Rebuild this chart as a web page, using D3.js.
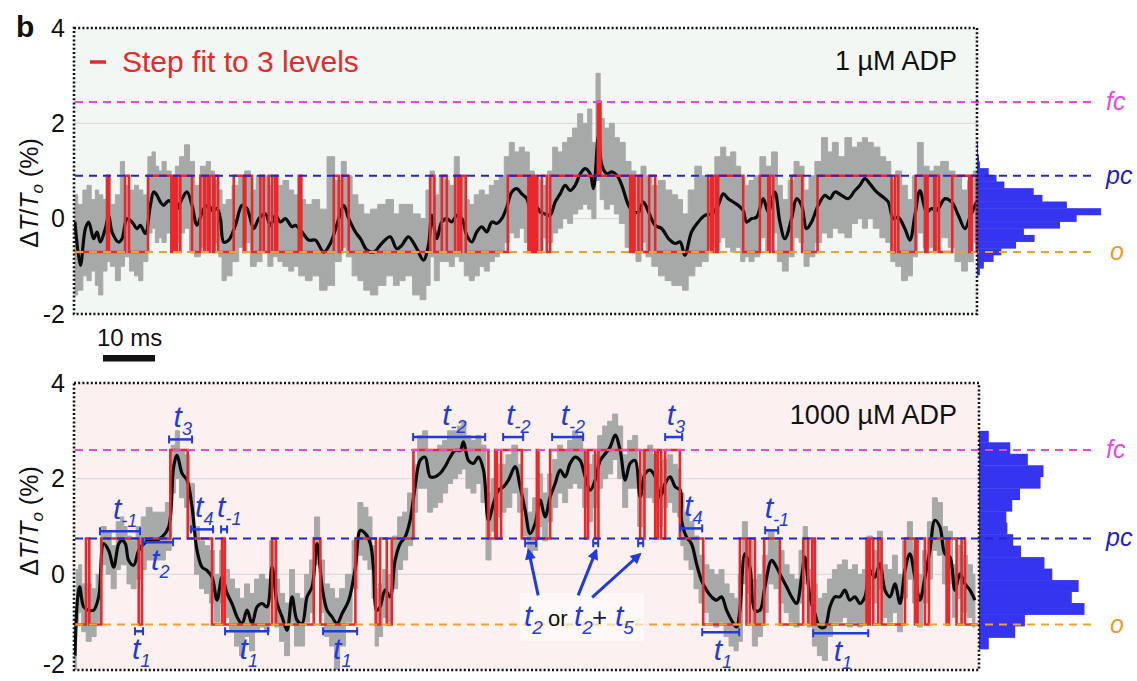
<!DOCTYPE html>
<html><head><meta charset="utf-8">
<script src="https://cdn.jsdelivr.net/npm/d3@7"></script>
<style>
body{margin:0;background:#fff;}
svg{display:block;font-family:"Liberation Sans",Arial,sans-serif;}
</style></head>
<body><svg id="chart" width="1137" height="681"></svg>
<script>
// ---------------- DATA ----------------
const yTicks = [-2, 0, 2, 4];
const levelNames = ["o", "pc", "fc"];
const topLevels = [-0.7, 0.9, 2.45];
const bottomLevels = [-1.05, 0.75, 2.6];
const timeSpan = 173.6; // ms shown
const scaleBarMs = 10;

// step fit: [time ms, level index]
const topStep = [[0,0],[6.15,1],[6.54,0],[9.62,1],[10.38,0],[14.04,1],[18.52,0],[18.79,1],[18.94,0],[19.42,1],[19.62,0],[20.25,1],[22.5,0],[24.1,1],[24.81,0],[25.0,1],[25.58,0],[25.87,1],[26.54,0],[26.83,1],[27.5,0],[30.52,1],[32.44,0],[32.75,1],[34.04,0],[35.63,1],[36.29,0],[37.25,1],[37.88,0],[38.52,1],[38.85,0],[43.02,1],[43.52,0],[49.75,1],[50.71,0],[51.35,1],[52.63,0],[68.27,1],[69.1,0],[70.52,1],[71.48,0],[73.08,1],[73.71,0],[74.23,1],[75.13,0],[83.21,1],[87.17,0],[87.4,1],[87.69,0],[87.98,1],[88.27,0],[88.46,1],[88.85,0],[89.75,1],[90.71,0],[91.35,1],[100.52,2],[101.02,1],[106.73,0],[107.12,1],[107.56,0],[108.33,1],[108.98,0],[110.38,1],[111.54,0],[121.73,1],[122.31,0],[122.69,1],[123.27,0],[123.65,1],[128.46,0],[131.67,1],[133.27,0],[133.6,1],[134.23,0],[137.75,1],[139.81,0],[142.75,1],[156.98,0],[157.63,1],[158.27,0],[161.6,1],[163.4,0],[163.9,1],[165.19,0],[165.44,1],[166.08,0],[168.65,1],[171.92,0],[172.37,1],[173.37,0]];
const bottomStep = [[0,0],[2.12,1],[2.75,0],[5.06,1],[12.25,0],[12.88,1],[18.33,2],[21.67,1],[26.35,0],[28.27,1],[28.79,0],[37.88,1],[38.65,0],[45.9,1],[47.17,0],[53.9,1],[57.83,0],[58.65,1],[59.94,0],[60.9,1],[65.06,2],[79.48,1],[80.77,2],[81.1,1],[81.92,2],[85.9,1],[88.79,2],[89.1,1],[91.35,2],[98.08,1],[98.65,2],[100.0,1],[100.63,2],[108.65,1],[109.48,2],[111.54,1],[112.06,2],[112.69,1],[113.46,2],[116.29,1],[120.77,0],[127.83,1],[129.1,0],[129.75,1],[130.71,0],[132.5,1],[135.52,0],[140.0,1],[140.96,0],[141.73,1],[142.25,0],[152.17,1],[152.5,0],[152.79,1],[153.46,0],[154.42,1],[155.06,0],[159.56,1],[161.48,0],[161.98,1],[163.4,0],[164.17,1],[167.56,0],[168.02,1],[169.48,0],[170.44,1],[171.1,0]];

// traces: [time ms, smoothed value, raw upper, raw lower]  (ΔT/To %)
const topTrace = [[0,-0.07,0.5,-1.6],[1.03,-0.98,0.3,-1.5],[1.99,-0.21,0.6,-1.2],[2.63,-0.07,0.7,-1.3],[3.59,-0.42,0.4,-1.1],[4.23,-0.28,0.6,-1.4],[4.87,-0.49,0.5,-1.6],[5.83,-0.21,0.4,-1.1],[6.47,0.07,0.9,-0.9],[7.12,-0.28,0.3,-1.0],[8.4,-0.49,0.5,-1.3],[9.04,-0.42,1.2,-1.0],[10.0,0,0.7,-0.8],[10.96,-0.07,0.6,-1.1],[11.92,-0.21,0.7,-1.2],[12.56,-0.14,0.6,-1.3],[13.53,-0.31,0.5,-0.9],[14.49,0.28,1.3,-0.3],[15.13,0.56,1.4,-0.2],[15.77,0.49,1.1,-0.5],[16.41,0.35,1.0,-0.4],[17.05,0.28,1.2,-0.5],[18.01,0.38,1.0,-0.3],[18.97,0.28,0.8,-0.6],[19.62,0.21,1.1,-0.5],[20.58,0.42,1.3,-0.3],[21.54,0.56,1.55,-0.2],[22.5,0.28,1.2,-0.7],[23.46,-0.14,0.7,-0.8],[24.74,0.21,1.1,-0.6],[25.71,0.28,1.2,-0.4],[26.35,0.17,1.0,-0.7],[27.31,0.21,0.8,-0.5],[27.95,0,0.6,-0.8],[28.59,-0.49,0.3,-1.3],[29.55,-0.45,0.4,-1.2],[30.83,-0.14,0.7,-0.9],[32.12,0.28,0.9,-0.6],[33.08,0.21,1.0,-0.5],[34.36,-0.21,0.6,-1.0],[35.32,0,0.9,-0.9],[36.6,0.1,0.9,-0.7],[37.56,-0.14,0.7,-1.0],[38.53,0.07,0.9,-0.8],[39.49,-0.07,0.7,-0.9],[40.45,0,0.8,-1.0],[41.73,-0.17,0.6,-1.1],[42.37,-0.14,0.5,-1.0],[43.65,-0.28,0.4,-1.2],[44.94,-0.45,0.3,-1.3],[46.22,-0.45,0.4,-1.2],[47.82,-0.7,0.2,-1.5],[49.1,-0.52,1.3,-1.4],[50.71,0,0.8,-0.9],[51.67,0.28,1.2,-0.6],[52.63,0,0.9,-0.8],[53.91,-0.28,0.5,-1.2],[54.87,-0.42,0.3,-1.3],[56.15,-0.66,0.1,-1.5],[57.44,-0.7,0.2,-1.6],[58.97,-0.52,0.3,-1.4],[60.58,-0.38,0.4,-1.2],[61.86,-0.63,0.1,-1.4],[62.82,-0.56,0.3,-1.3],[64.1,-0.38,0.3,-1.2],[65.71,-0.63,0.1,-1.6],[66.99,-0.87,0.0,-1.7],[67.95,-0.56,0.6,-1.4],[68.59,0.07,1.0,-0.8],[69.55,-0.42,0.5,-1.3],[70.51,-0.07,0.9,-0.9],[71.47,0,0.8,-0.9],[72.44,-0.07,0.7,-1.0],[73.4,0.07,1.3,-0.8],[74.36,0,0.9,-0.9],[75.32,-0.35,0.4,-1.2],[76.28,-0.49,0.3,-1.3],[77.24,-0.28,0.5,-1.2],[78.2,-0.17,0.6,-1.0],[79.17,-0.28,0.5,-1.1],[80.13,-0.07,0.7,-0.9],[81.09,-0.1,0.8,-0.8],[82.05,0,0.9,-0.7],[83.01,0.24,1.3,-0.5],[83.97,0.56,1.6,-0.3],[84.94,0.63,1.4,-0.4],[85.9,0.52,1.5,-0.2],[86.86,0.42,1.4,-0.5],[87.82,0.07,1.0,-0.7],[88.78,0.24,0.9,-0.6],[89.42,0.14,0.8,-0.7],[90.38,0.1,0.7,-0.4],[91.35,0.07,1.0,-0.5],[92.31,0.35,1.5,-0.3],[93.27,0.52,1.4,-0.2],[94.23,0.7,1.6,0.0],[95.19,0.59,1.7,-0.1],[96.15,0.7,1.9,0.1],[97.12,0.94,2.2,0.2],[98.08,1.05,2.0,0.3],[99.04,0.94,2.3,0.2],[99.68,0.63,1.6,0.0],[100.64,1.75,3.05,0.8],[101.28,1.12,2.1,0.4],[102.24,0.94,1.9,0.2],[103.21,0.98,2.0,0.3],[104.17,0.91,1.7,0.1],[105.13,0.7,1.6,-0.1],[106.41,0.28,1.2,-0.6],[107.37,0.14,1.0,-0.7],[108.33,0.14,0.9,-0.9],[109.29,0.35,1.1,-0.5],[110.26,0.14,0.9,-0.8],[111.54,-0.14,0.7,-1.0],[112.82,-0.21,0.8,-1.2],[114.1,-0.42,0.6,-1.3],[115.38,-0.52,0.5,-1.4],[116.35,-0.49,0.4,-1.4],[117.24,-0.77,0.1,-1.5],[118.52,-0.28,0.6,-1.2],[119.81,-0.07,1.1,-1.0],[121.09,0.07,0.9,-0.9],[122.37,0.1,0.8,-0.6],[123.65,0.28,1.3,-0.5],[124.62,0.52,1.5,-0.4],[125.58,0.42,1.3,-0.6],[126.54,0.35,1.4,-0.7],[127.5,0.28,1.1,-0.6],[128.46,0.17,0.9,-0.9],[129.1,-0.07,0.7,-0.8],[130.06,0,0.8,-0.9],[131.03,0.03,0.9,-0.8],[132.31,0.42,1.3,-0.4],[133.27,0.14,1.1,-0.7],[134.55,0.56,1.4,-0.3],[135.51,-0.07,0.7,-0.9],[136.47,-0.42,0.4,-1.1],[137.76,0,0.8,-0.8],[138.72,0.42,1.2,-0.4],[139.68,0.28,1.1,-0.5],[140.64,-0.21,0.6,-1.0],[141.6,-0.07,0.9,-0.8],[142.88,0.28,1.2,-0.5],[144.17,0.49,1.7,-0.3],[145.13,0.42,1.4,-0.4],[146.09,0.56,1.6,-0.2],[147.37,0.49,1.3,-0.3],[148.65,0.42,1.7,-0.4],[149.94,0.59,1.5,-0.1],[150.9,0.7,1.6,0.0],[151.86,0.84,1.7,-0.2],[152.82,0.73,1.6,0.0],[154.1,0.56,1.5,-0.2],[155.38,0.45,1.3,-0.4],[156.35,0.35,1.2,-0.5],[157.31,0,0.8,-0.9],[158.27,0.03,1.0,-1.0],[159.55,-0.21,0.7,-1.3],[160.51,-0.45,0.4,-1.2],[161.47,0.07,0.9,-0.8],[162.44,0.59,1.6,-0.3],[163.72,0.14,1.1,-0.6],[164.68,0.21,1.0,-0.6],[165.64,0.17,1.1,-0.7],[167.24,0.42,1.2,-0.4],[168.53,0.35,1.0,-0.6],[169.81,0.07,0.9,-0.9],[171.09,-0.21,0.6,-1.1],[172.05,0.03,0.8,-0.9],[173.33,0.35,1.0,-0.5]];

const bottomTrace = [[0,-1.7,-1.0,-2.0],[0.5,-0.5,0.1,-1.0],[0.9,-0.26,0.2,-0.8],[1.67,-0.68,-0.2,-1.2],[2.63,-0.75,-0.2,-1.4],[3.59,-0.75,-0.3,-1.3],[4.55,-0.47,0.0,-1.0],[5.51,0.64,1.0,0.2],[6.47,0.5,0.9,0.0],[7.44,0.15,0.6,-0.3],[8.4,0.64,1.1,0.1],[9.04,0.71,1.2,0.2],[9.68,0.64,1.0,0.2],[10.32,0.29,0.8,-0.2],[11.28,0.19,0.7,-0.3],[12.24,0.5,1.0,-0.1],[13.21,0.64,1.2,0.1],[14.17,0.71,1.4,0.3],[15.45,0.71,1.3,0.3],[16.73,0.78,1.3,0.3],[18.01,0.99,1.5,0.5],[18.97,2.25,2.7,1.7],[19.62,2.49,3.0,2.0],[20.58,2.11,2.6,1.6],[21.54,1.97,2.5,1.4],[22.5,1.41,1.9,0.9],[23.46,0.5,1.0,0.0],[24.42,0.15,0.7,-0.3],[25.38,0.08,0.6,-0.4],[26.35,-0.06,0.5,-0.6],[27.31,-0.54,0.0,-1.0],[28.27,-0.06,0.5,-0.6],[29.23,-0.4,0.1,-0.9],[30.19,-0.61,-0.1,-1.2],[31.15,-0.89,-0.3,-1.5],[32.12,-1.03,-0.5,-1.7],[33.08,-0.75,-0.2,-1.3],[34.04,-1.03,-0.4,-1.6],[35.0,-0.68,-0.1,-1.2],[35.96,-0.61,0.0,-1.1],[36.92,-0.68,-0.1,-1.2],[37.88,0.15,0.7,-0.3],[38.85,-0.61,-0.1,-1.1],[39.81,-0.89,-0.4,-1.4],[40.77,-1.17,-0.6,-1.7],[41.73,-0.47,0.1,-1.0],[42.69,-0.96,-0.4,-1.5],[43.65,-1.03,-0.5,-1.5],[44.62,-0.47,0.0,-1.0],[45.58,-0.26,0.3,-0.8],[46.54,0.64,1.2,0.2],[47.5,-0.26,0.3,-0.8],[48.46,-0.75,-0.2,-1.3],[49.42,-0.89,-0.3,-1.5],[50.38,-1.03,-0.5,-2.0],[51.35,-0.82,-0.3,-1.5],[52.63,-0.54,0.0,-1.0],[53.91,0.15,0.7,-0.3],[54.87,0.92,1.5,0.4],[55.83,0.85,1.4,0.3],[56.79,0.64,1.2,0.1],[57.4,0.1,0.6,-0.5],[58.0,-0.75,-0.3,-1.5],[58.65,-0.68,-0.2,-1.3],[59.62,-0.33,0.1,-0.9],[60.58,-0.47,0.0,-1.0],[61.54,0.29,0.8,-0.3],[62.5,0.64,1.2,0.1],[63.46,0.78,1.3,0.3],[64.42,1.13,1.7,0.6],[65.38,1.83,2.3,1.3],[66.35,2.38,2.9,1.8],[67.31,2.45,3.0,1.8],[68.27,2.04,2.6,1.3],[69.23,2.04,2.6,1.4],[70.19,2.11,2.7,1.5],[71.15,2.25,2.8,1.7],[72.12,2.45,3.0,1.9],[73.08,2.59,3.0,2.0],[74.04,2.59,3.1,2.1],[74.68,2.77,3.2,2.2],[75.64,2.38,2.9,1.8],[76.6,2.32,2.8,1.7],[77.56,2.45,2.9,1.9],[78.53,2.18,2.7,1.5],[79.49,1.13,1.7,0.3],[80.45,1.48,2.0,0.9],[81.41,1.76,2.3,1.2],[82.37,1.83,2.3,1.3],[83.33,1.97,2.5,1.4],[84.62,2.25,2.7,1.7],[85.58,1.83,2.3,1.3],[86.54,1.34,1.8,0.8],[87.5,0.85,1.3,0.4],[88.46,1.06,1.6,0.5],[89.42,1.55,2.1,1.0],[90.38,1.2,1.7,0.7],[91.35,1.62,2.1,1.1],[92.31,1.9,2.4,1.4],[93.27,2.18,2.7,1.7],[94.23,2.04,2.6,1.5],[95.19,2.32,2.8,1.8],[96.15,2.45,3.0,1.9],[97.12,2.38,2.9,1.8],[98.08,2.04,2.6,1.4],[99.04,1.76,2.3,1.1],[100.0,1.97,2.5,1.4],[100.96,2.38,2.9,1.8],[101.92,2.52,3.1,2.0],[102.88,2.66,3.2,2.1],[103.85,2.91,3.35,2.4],[104.81,2.59,3.1,2.0],[105.77,1.97,2.5,1.4],[106.73,2.32,2.8,1.8],[107.69,2.38,2.9,1.8],[108.65,1.62,2.1,1.0],[109.62,2.11,2.6,1.6],[110.58,2.18,2.7,1.6],[111.54,2.04,2.5,1.5],[112.5,1.62,2.2,1.0],[113.46,1.9,2.4,1.4],[114.42,2.04,2.5,1.5],[115.38,1.83,2.3,1.3],[116.35,1.76,2.2,1.2],[116.6,1.13,1.7,0.6],[117.56,0.78,1.3,0.3],[118.52,0.64,1.1,0.1],[119.49,0.22,0.8,-0.3],[120.45,-0.13,0.4,-0.6],[121.41,-0.33,0.2,-0.8],[122.37,-0.47,0.1,-1.0],[123.33,-0.54,0.0,-1.1],[124.29,-0.47,0.1,-1.0],[125.26,-0.75,-0.2,-1.3],[126.22,-0.96,-0.4,-1.5],[127.18,-1.1,-0.5,-1.6],[127.82,-0.75,0.0,-1.4],[128.78,0.43,1.1,-0.2],[129.74,0.15,0.7,-0.4],[130.7,-0.75,-0.1,-1.5],[131.67,-0.75,0.0,-1.3],[132.63,-0.26,0.4,-0.8],[133.91,0.29,0.9,-0.2],[134.87,0.15,0.7,-0.3],[135.83,-0.06,0.5,-0.6],[136.8,-0.26,0.2,-0.8],[137.76,-0.47,0.0,-1.0],[138.72,-0.61,-0.1,-1.1],[139.68,-0.06,0.5,-0.6],[140.32,0.36,1.0,-0.2],[141.28,-0.47,0.1,-1.1],[142.24,-0.82,-0.2,-1.5],[143.21,-1.1,-0.5,-1.7],[144.17,-1.1,-0.4,-1.8],[145.13,-0.68,-0.1,-1.3],[146.09,-0.47,0.1,-1.0],[147.05,-0.47,0.2,-1.0],[148.01,-0.33,0.3,-0.9],[148.97,-0.54,0.1,-1.1],[149.94,-0.47,0.2,-1.0],[150.9,-0.61,0.0,-1.1],[151.86,-0.47,0.1,-1.0],[152.82,0.08,0.8,-0.5],[153.78,-0.06,0.5,-0.6],[154.74,0.22,0.9,-0.3],[155.71,-0.33,0.2,-0.9],[156.67,-0.47,0.1,-1.0],[157.63,-0.2,0.4,-0.8],[158.6,-0.61,0.0,-1.2],[159.55,0.08,0.7,-0.5],[160.51,0.43,1.1,-0.1],[161.47,-0.06,0.5,-0.6],[162.44,-0.54,0.0,-1.1],[163.4,-0.06,0.5,-0.6],[164.36,0.5,1.1,-0.1],[165.32,1.13,1.6,0.5],[166.28,0.99,1.5,0.4],[167.24,0.43,1.0,-0.2],[168.21,0.36,0.9,-0.2],[169.17,-0.33,0.2,-0.9],[170.13,0.01,0.6,-0.5],[171.09,-0.2,0.4,-0.8],[172.05,-0.33,0.2,-0.9],[173.01,-0.54,0.0,-1.1]];

// histograms: bin lower edge and count
const topHistEdges  = [1.48,1.34,1.2,1.06,0.92,0.78,0.64,0.5,0.36,0.22,0.08,-0.06,-0.2,-0.34,-0.48,-0.62,-0.76,-0.9,-1.04,-1.18];
const topHistCounts = [1,1,2,3,12,20,28,58,67,92,127,102,85,48,59,40,25,17,7,3];
const topHistBin = 0.14;
const bottomHistEdges  = [2.76,2.52,2.28,2.04,1.8,1.56,1.32,1.08,0.84,0.6,0.36,0.12,-0.12,-0.36,-0.6,-0.84,-1.08,-1.32,-1.56];
const bottomHistCounts = [10,32,50,66,63,42,34,28,29,35,43,67,75,102,95,108,47,37,10];
const bottomHistBin = 0.24;

// dwell-time annotations (bottom panel): subscript, start ms, end ms, level, label side
const dwellSubs   = ["-1","2","3","4","-1","1","1","1","-2","-2","-2","3","4","1","-1","1"];
const dwellStart  = [4.81,13.08,18.08,22.31,28.08,11.54,28.85,47.69,65.0,82.31,91.73,113.46,116.35,120.58,132.69,141.92];
const dwellEnd    = [12.5,18.85,22.5,26.54,29.23,13.08,37.12,54.23,78.85,86.15,97.69,116.73,120.58,127.69,135.19,152.5];
const dwellLevel  = [0.9,0.67,2.82,0.94,0.94,-1.19,-1.19,-1.19,2.87,2.87,2.87,2.87,0.96,-1.21,0.92,-1.23];
const dwellSide   = ["above","below","above","above","above","below","below","below","above","above","above","above","above","below","above","below"];
const shortDwells = [[86.54,88.65,0.65],[99.62,100.58,0.65],[108.27,109.23,0.65]];
const arrowsData  = [[89.04,-0.44,87.2,0.5],[96.73,-0.44,100.2,0.5],[99.42,-0.48,108.6,0.42]];

// ---------------- DRAW ----------------
const svg = d3.select("#chart");
const BLUE = "#1f3be0", RED = "#e8282b", GRAY = "#a7a9a9";
const levelColors = ["#f0a030", "#2424d0", "#ee44e4"];
const labelColors = ["#ee9a2e", "#1e1ec8", "#e64be2"];

const x = d3.scaleLinear().domain([0, timeSpan]).range([75, 978]);
const hx = d3.scaleLinear().domain([0, 130]).range([0, 127]);

const defs = svg.append("defs");
defs.append("marker").attr("id","arrowhead").attr("viewBox","0 0 10 10")
  .attr("refX",8).attr("refY",5).attr("markerWidth",13).attr("markerHeight",11)
  .attr("markerUnits","userSpaceOnUse").attr("orient","auto")
  .append("path").attr("d","M0,0 L10,5 L0,10 z").attr("fill",BLUE);

const panels = [
  {id:"top", y:d3.scaleLinear().domain([-2,4]).range([314,28]), frame:[74,28,977,314], bg:"#f2f7f3",
   levels:topLevels, step:topStep, trace:topTrace, hEdges:topHistEdges, hCounts:topHistCounts, hBin:topHistBin,
   titleY:193, condition:"1 µM ADP", condY:70, lowShift:0},
  {id:"bot", y:d3.scaleLinear().domain([-2,4]).range([670,383]), frame:[74,383,979,670], bg:"#fcf0f0",
   levels:bottomLevels, step:bottomStep, trace:bottomTrace, hEdges:bottomHistEdges, hCounts:bottomHistCounts, hBin:bottomHistBin,
   titleY:521, condition:"1000 µM ADP", condY:424, lowShift:-6}
];

panels.forEach(p => {
  const y = p.y;
  const [fx0, fy0, fx1, fy1] = p.frame;
  const g = svg.append("g");
  defs.append("clipPath").attr("id","clip-"+p.id).append("rect")
    .attr("x",fx0).attr("y",fy0).attr("width",fx1-fx0).attr("height",fy1-fy0);

  g.append("rect").attr("x",fx0).attr("y",fy0).attr("width",fx1-fx0).attr("height",fy1-fy0).attr("fill",p.bg);

  // grid
  g.selectAll(".grid").data([0,2]).join("line")
    .attr("x1",fx0).attr("x2",fx1).attr("y1",d=>y(d)).attr("y2",d=>y(d))
    .attr("stroke","#d6d6d6").attr("stroke-width",1);

  // histogram
  g.selectAll(".hist").data(p.hCounts.map((c,i)=>[p.hEdges[i],c])).join("rect")
    .attr("x",fx1).attr("y",d=>y(d[0]+p.hBin)).attr("height",d=>y(d[0])-y(d[0]+p.hBin)+0.4)
    .attr("width",d=>hx(d[1])).attr("fill","#3535f0");

  const inner = g.append("g").attr("clip-path","url(#clip-"+p.id+")");
  // raw noisy trace
  inner.append("path").datum(p.trace)
    .attr("d", d3.area().x(d=>x(d[0])).y0(d=>y(d[3])).y1(d=>y(d[2])).curve(d3.curveStep))
    .attr("fill",GRAY).attr("stroke",GRAY).attr("stroke-width",1);

  // dashed level lines
  g.selectAll(".lvl").data(p.levels).join("line")
    .attr("x1",fx0+1).attr("x2",1097).attr("y1",d=>y(d)).attr("y2",d=>y(d))
    .attr("stroke",(d,i)=>levelColors[i]).attr("stroke-width",2).attr("stroke-dasharray","8,6");

  // smoothed trace
  inner.append("path").datum(p.trace)
    .attr("d", d3.line().x(d=>x(d[0])).y(d=>y(d[1])).curve(d3.curveCatmullRom.alpha(0.5)))
    .attr("fill","none").attr("stroke","#0a0a0a").attr("stroke-width",3.2).attr("stroke-linejoin","round");

  // step fit
  const stepPts = p.step.concat([[timeSpan, p.step[p.step.length-1][1]]]);
  inner.append("path").datum(stepPts)
    .attr("d", d3.line().x(d=>x(d[0])).y(d=>y(p.levels[d[1]])).curve(d3.curveStepAfter))
    .attr("fill","none").attr("stroke",RED).attr("stroke-width",2.6);

  // dotted frame
  g.append("rect").attr("x",fx0).attr("y",fy0).attr("width",fx1-fx0).attr("height",fy1-fy0)
    .attr("fill","none").attr("stroke","#111").attr("stroke-width",2.6).attr("stroke-dasharray","2,2.2");

  // y axis
  const ax = g.append("g").attr("transform","translate(72,0)")
    .call(d3.axisLeft(y).tickValues(yTicks).tickSize(0).tickPadding(7).tickFormat(d => String(d)));
  ax.select(".domain").remove();
  ax.selectAll("text").attr("font-size",25).attr("fill","#111").attr("font-family","Liberation Sans, Arial, sans-serif");
  ax.selectAll(".tick").filter(d => d === -2).select("text").attr("y", p.lowShift);

  // y title
  const tt = g.append("text").attr("transform",`translate(38,${p.titleY}) rotate(-90)`)
    .attr("text-anchor","middle").attr("font-size",25).attr("fill","#111");
  tt.append("tspan").text("Δ");
  tt.append("tspan").text("T").attr("font-style","italic");
  tt.append("tspan").text("/");
  tt.append("tspan").text("T").attr("font-style","italic");
  tt.append("tspan").text("o").attr("font-style","italic").attr("font-size",17).attr("dy",5);
  tt.append("tspan").text(" (%)").attr("dy",-5);

  // level labels
  g.selectAll(".lvllab").data(p.levels).join("text")
    .attr("x",(d,i)=> i===0 ? 1110 : 1106).attr("y",d=>y(d)+8)
    .attr("font-size",25).attr("font-style","italic").attr("fill",(d,i)=>labelColors[i])
    .text((d,i)=>levelNames[i]);

  // condition label
  g.append("text").attr("x",957).attr("y",p.condY).attr("text-anchor","end")
    .attr("font-size",27).attr("fill","#111").text(p.condition);
});

// panel letter
svg.append("text").attr("x",16).attr("y",37).attr("font-size",30).attr("font-weight","bold").attr("fill","#111").text("b");

// legend
svg.append("line").attr("x1",90).attr("x2",106).attr("y1",62).attr("y2",62).attr("stroke",RED).attr("stroke-width",3.5);
svg.append("text").attr("x",122).attr("y",72).attr("font-size",30).attr("fill",RED).text("Step fit to 3 levels");

// scale bar
svg.append("text").attr("x",97).attr("y",346).attr("font-size",24).attr("fill","#111").text(scaleBarMs + " ms");
svg.append("rect").attr("x",103).attr("y",355).attr("width",x(scaleBarMs)-x(0)).attr("height",6.5).attr("fill","#111");

// bottom-panel annotations
const yb = panels[1].y;
const ann = svg.append("g");
ann.append("rect").attr("x",520).attr("y",593).attr("width",124).attr("height",48).attr("fill","#ffffff").attr("opacity",0.55);

function bracket(t0, t1, v) {
  const yy = yb(v), a = x(t0), b = x(t1);
  ann.append("line").attr("x1",a).attr("x2",b).attr("y1",yy).attr("y2",yy).attr("stroke",BLUE).attr("stroke-width",2.5);
  [a,b].forEach(xx => ann.append("line").attr("x1",xx).attr("x2",xx).attr("y1",yy-4).attr("y2",yy+4)
    .attr("stroke",BLUE).attr("stroke-width",2));
}
function tLabel(px, py, sub) {
  const t = ann.append("text").attr("x",px).attr("y",py).attr("fill",BLUE).attr("font-style","italic");
  t.append("tspan").text("t").attr("font-size",30);
  t.append("tspan").text(sub).attr("font-size",18).attr("dy",8);
}
dwellSubs.forEach((s,i) => {
  bracket(dwellStart[i], dwellEnd[i], dwellLevel[i]);
  const cx = (x(dwellStart[i]) + x(dwellEnd[i]))/2;
  const yy = yb(dwellLevel[i]);
  if (dwellSide[i] === "above") tLabel(cx-7, yy-12, s);
  else tLabel(cx-7, yy+28, s);
});
shortDwells.forEach(d => bracket(d[0], d[1], d[2]));
arrowsData.forEach(a => {
  ann.append("line").attr("x1",x(a[0])).attr("y1",yb(a[1])).attr("x2",x(a[2])).attr("y2",yb(a[3]))
    .attr("stroke",BLUE).attr("stroke-width",3).attr("marker-end","url(#arrowhead)");
});
const big = ann.append("text").attr("y",626).attr("font-style","italic").attr("fill",BLUE);
big.append("tspan").attr("x",524).text("t").attr("font-size",30);
big.append("tspan").text("2").attr("font-size",19).attr("dy",8);
big.append("tspan").attr("x",548).attr("dy",-8).text("or").attr("font-size",22).attr("font-style","normal").attr("fill","#111");
big.append("tspan").attr("x",574).text("t").attr("font-size",30);
big.append("tspan").text("2").attr("font-size",19).attr("dy",8);
big.append("tspan").attr("x",592).attr("dy",-8).text("+").attr("font-size",26).attr("font-style","normal").attr("fill","#151a55");
big.append("tspan").attr("x",615).text("t").attr("font-size",30);
big.append("tspan").text("5").attr("font-size",19).attr("dy",8);
</script>
</body></html>
